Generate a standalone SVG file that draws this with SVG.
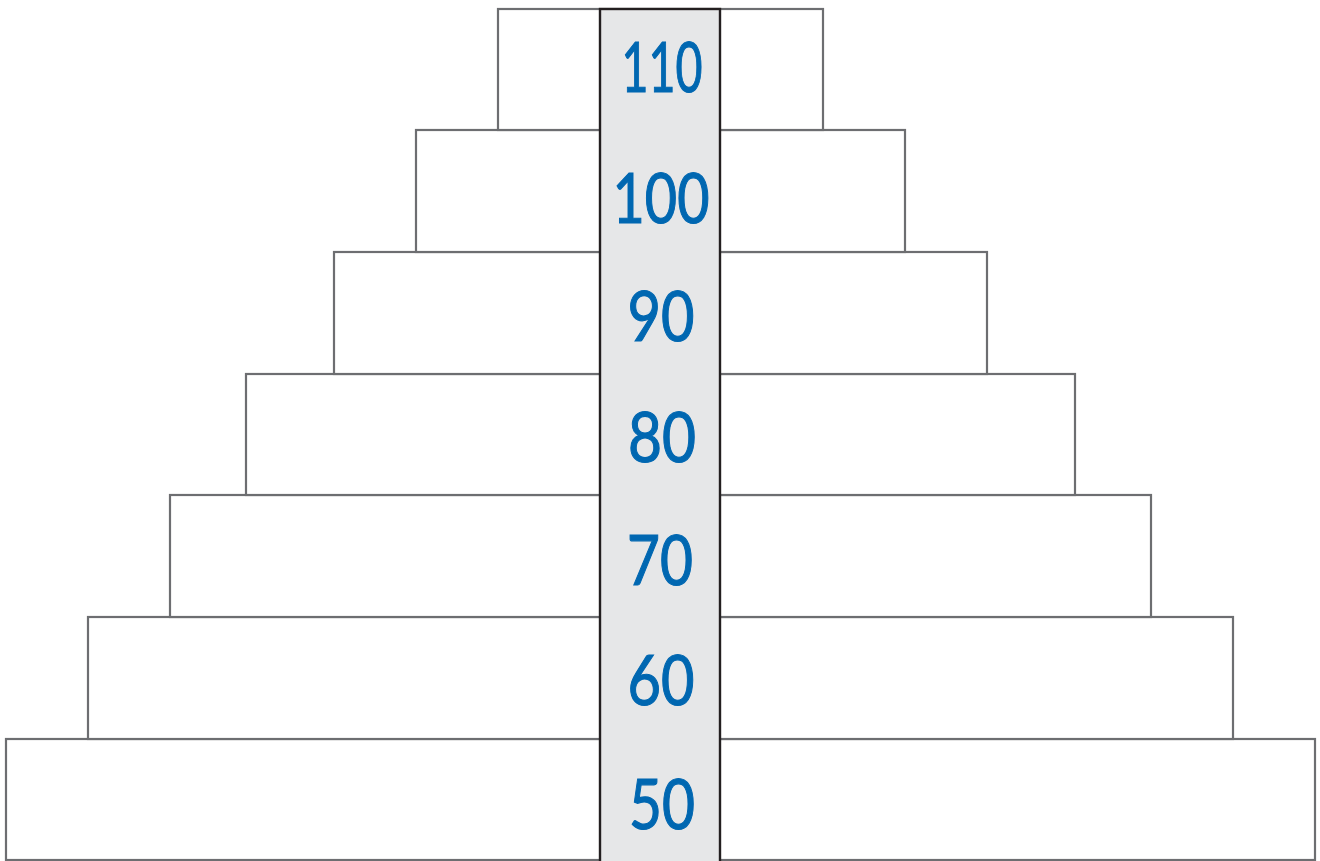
<svg xmlns="http://www.w3.org/2000/svg" width="1320" height="861" viewBox="0 0 1320 861">
<style>
.step{fill:#ffffff;stroke:#6d6e71;stroke-width:2.2}
.col{fill:#e6e7e8;stroke:#231f20;stroke-width:2.4}
.num{fill:#0067b1;stroke:#0067b1;stroke-width:1.2;font-family:Lato,"Open Sans",sans-serif;font-size:70px;text-anchor:middle}
</style>
<rect width="1320" height="861" fill="#ffffff"/>
<g id="steps">
<rect id="step-50" class="step" x="6" y="739" width="1309" height="121"/>
<rect id="step-60" class="step" x="88" y="617" width="1145" height="122"/>
<rect id="step-70" class="step" x="170" y="495" width="981" height="122"/>
<rect id="step-80" class="step" x="246" y="374" width="829" height="121"/>
<rect id="step-90" class="step" x="334" y="252" width="653" height="122"/>
<rect id="step-100" class="step" x="416" y="130" width="489" height="122"/>
<rect id="step-110" class="step" x="498" y="9" width="325" height="121"/>
</g>
<g id="scale">
<rect class="col" x="600" y="9" width="120" height="856"/>
<text class="num" x="662" y="92" textLength="81" lengthAdjust="spacingAndGlyphs">110</text>
<text class="num" x="661" y="223" textLength="97" lengthAdjust="spacingAndGlyphs">100</text>
<text class="num" x="661" y="341" textLength="67" lengthAdjust="spacingAndGlyphs">90</text>
<text class="num" x="662" y="462" textLength="68" lengthAdjust="spacingAndGlyphs">80</text>
<text class="num" x="660" y="585" textLength="66" lengthAdjust="spacingAndGlyphs">70</text>
<text class="num" x="661" y="705" textLength="67" lengthAdjust="spacingAndGlyphs">60</text>
<text class="num" x="662" y="829" textLength="66" lengthAdjust="spacingAndGlyphs">50</text>
</g>
</svg>
